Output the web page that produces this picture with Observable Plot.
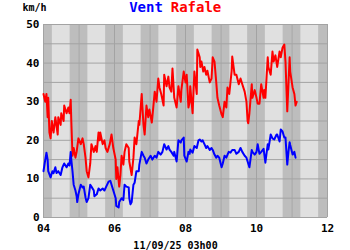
<!DOCTYPE html>
<html><head><meta charset="utf-8">
<script src="https://cdn.jsdelivr.net/npm/d3@7"></script>
<script src="https://cdn.jsdelivr.net/npm/@observablehq/plot@0.6"></script>
<style>body{margin:0;background:#fff;} svg{display:block}</style>
</head><body><div id="chart"></div>
<script>
const rafaleTimes = ["04:00","04:03","04:05","04:07","04:08","04:10","04:12","04:14","04:17","04:20","04:24","04:25","04:29","04:30","04:34","04:35","04:39","04:42","04:44","04:46","04:47","04:49","04:51","04:54","04:56","04:59","05:03","05:06","05:08","05:11","05:13","05:16","05:19","05:21","05:25","05:28","05:30","05:33","05:35","05:36","05:40","05:43","05:45","05:48","05:52","05:55","05:58","06:02","06:03","06:05","06:07","06:08","06:10","06:12","06:15","06:17","06:20","06:24","06:25","06:29","06:32","06:34","06:37","06:41","06:42","06:46","06:47","06:49","06:51","06:54","06:57","06:59","07:03","07:04","07:08","07:11","07:14","07:16","07:19","07:23","07:24","07:28","07:31","07:33","07:36","07:38","07:41","07:45","07:48","07:52","07:53","07:57","08:00","08:02","08:05","08:07","08:08","08:12","08:15","08:19","08:20","08:24","08:25","08:27","08:30","08:32","08:35","08:37","08:41","08:44","08:46","08:49","08:52","08:54","08:57","09:01","09:03","09:06","09:09","09:11","09:14","09:18","09:19","09:23","09:26","09:30","09:33","09:36","09:40","09:43","09:45","09:46","09:48","09:52","09:53","09:57","10:00","10:02","10:05","10:08","10:12","10:13","10:15","10:19","10:20","10:24","10:27","10:29","10:32","10:35","10:39","10:41","10:44","10:47","10:49","10:52","10:56","10:57","11:01","11:04","11:06","11:08"];
const rafaleValues = [32,30,32,26,31,22,20.5,25,22,26,21.5,26,24,27,25,29,27,28.5,27,30.5,25,16,18,15.5,17,20.5,19,20.5,19,15.5,12,10.4,14,19,17,18.5,17,22,20,22,19,20,18,17,19,21.5,18,15,10,13,9.5,8,11,16,13.7,17,19,18,14.5,11,15.5,20.7,19,25,24,32,29,24,21.5,29,26,28,24.6,26,32.6,30,36,33.7,32,29,37,34,36.5,33.7,32.6,38.6,31,28.5,34,30,33,37.8,35,37,28.5,30,34,27,37.8,32,43.5,41.5,39,40.4,37.8,39,37,38,35,36,41.5,40.4,35,31,29,26.7,26,30,28.5,33.7,32,38,41.7,37,37,34.5,36,34.5,32.6,30,25,24.4,27,34.5,31,33,31,29.5,29.5,34.5,31,33,31,41.5,39,37,43,40.4,42,39,43,41.5,44,44.8,40.4,27.5,41.5,37.8,33.7,32,29,30];

const ventTimes = ["04:00","04:02","04:05","04:07","04:08","04:12","04:15","04:17","04:20","04:22","04:25","04:29","04:32","04:35","04:39","04:42","04:44","04:46","04:47","04:49","04:51","04:54","04:56","04:57","04:59","05:03","05:06","05:08","05:11","05:13","05:16","05:19","05:21","05:25","05:26","05:30","05:33","05:36","05:40","05:43","05:46","05:50","05:53","05:55","05:58","06:02","06:03","06:07","06:08","06:12","06:15","06:17","06:20","06:24","06:25","06:27","06:29","06:32","06:34","06:37","06:41","06:42","06:46","06:49","06:51","06:54","06:57","07:01","07:04","07:08","07:11","07:14","07:18","07:21","07:24","07:28","07:31","07:33","07:36","07:40","07:41","07:45","07:48","07:52","07:53","07:57","07:58","08:02","08:05","08:07","08:08","08:12","08:15","08:19","08:22","08:24","08:27","08:29","08:32","08:35","08:37","08:41","08:44","08:46","08:49","08:52","08:54","08:57","09:01","09:03","09:06","09:09","09:13","09:16","09:19","09:23","09:26","09:30","09:33","09:36","09:40","09:43","09:48","09:52","09:53","09:57","10:00","10:02","10:05","10:08","10:12","10:15","10:19","10:20","10:24","10:27","10:30","10:34","10:35","10:39","10:41","10:44","10:47","10:49","10:52","10:54","10:56","10:57","11:01","11:04","11:06"];
const ventValues = [12,14,16.8,15,12,10.4,12,11.5,13,11.5,12,11,13,14,13,14,13.5,17,15,12,8.5,7,5.5,4,6,8.5,7.8,8,5.2,4,5,8.5,8,7,5.5,6,7.5,7,7.5,7,8,9.3,9.5,8.5,7,5,3,2.6,4,5,4.5,8.5,8,7.8,5,3.4,4,8.5,9,12,12,13.7,17,16,15.5,14,15,16,15,16,15.5,17,16.3,17,19,17.6,18.5,17.6,17,16,17,14.5,20,19.4,20,20.7,16,14.5,17,16.5,17.6,16.8,18.5,18,20,20.2,19.7,20,19,18,18.5,17.5,18,17.5,16.3,15.5,16,15.5,13,14,16,15.5,17,16.8,17.5,17.5,16.5,17,18,17,16,15.5,13,17.5,17,16.3,17,19,16.5,17,17.8,14.2,19,17.6,21.5,20.5,20.2,21.5,21.5,19.7,22.8,22.3,20.7,20.7,13.7,17,19.5,18.8,16.3,17,15.5];

const yTicks = [0,10,20,30,40,50];
const yGrid = [0,5,10,15,20,25,30,35,40,45,50];
const xTicks = [4,6,8,10,12];
const xTickLabels = ["04","06","08","10","12"];
const hourLines = [4,5,6,7,8,9,10,11,12];
const titleVent = "Vent";
const titleRafale = "Rafale";
const unitLabel = "km/h";
const dateLabel = "11/09/25 03h00";

const toH = s => { const [h, m] = s.split(":").map(Number); return h + m / 60; };
const rafale = rafaleTimes.map((t, i) => ({h: toH(t), v: rafaleValues[i]}));
const vent = ventTimes.map((t, i) => ({h: toH(t), v: ventValues[i]}));
const hours = hourLines.slice(0, -1);

const plot = Plot.plot({
  width: 350, height: 250,
  marginTop: 24, marginBottom: 33, marginLeft: 43, marginRight: 23,
  x: {type: "linear", domain: [4, 12]},
  y: {domain: [0, 50]},
  style: {fontFamily: "DejaVu Sans Mono", fontWeight: "bold", fontSize: "10px", background: "#fff", color: "#000"},
  marks: [
    Plot.frame({fill: "#e0e0e0", stroke: null}),
    Plot.rect(hours, {x1: d => d, x2: d => d + 0.25, y1: () => 0, y2: () => 50, fill: "#bdbdbd"}),
    Plot.rect(hours, {x1: d => d + 0.75, x2: d => d + 1, y1: () => 0, y2: () => 50, fill: "#bdbdbd"}),
    Plot.ruleY(yGrid, {stroke: "#a3a3a3", strokeWidth: 1}),
    Plot.ruleX(hourLines, {stroke: "#a3a3a3", strokeWidth: 1}),
    Plot.line(rafale, {x: "h", y: "v", stroke: "#ff0000", strokeWidth: 2}),
    Plot.line(vent, {x: "h", y: "v", stroke: "#0000ff", strokeWidth: 2}),
    Plot.axisY(yTicks, {tickSize: 0, tickPadding: 4, label: null, fontWeight: "bold", fontSize: 11}),
    Plot.axisX(xTicks, {tickSize: 0, tickPadding: 7, label: null, tickFormat: d => xTickLabels[xTicks.indexOf(d)], fontWeight: "bold", fontSize: 11}),
    Plot.text([unitLabel], {frameAnchor: "top-left", text: d => d, dx: -21, dy: -21, fontSize: 10, fontWeight: "bold"}),
    Plot.text([titleVent], {frameAnchor: "top", text: d => d, dx: -39.5, dy: -22, fill: "#0000ff", fontSize: 14, fontWeight: "bold"}),
    Plot.text([titleRafale], {frameAnchor: "top", text: d => d, dx: 10.5, dy: -22, fill: "#ff0000", fontSize: 14, fontWeight: "bold"}),
    Plot.text([dateLabel], {frameAnchor: "bottom", text: d => d, dx: -10, dy: 31, fontSize: 10, fontWeight: "bold"})
  ]
});
document.getElementById("chart").appendChild(plot);
</script>
</body></html>
